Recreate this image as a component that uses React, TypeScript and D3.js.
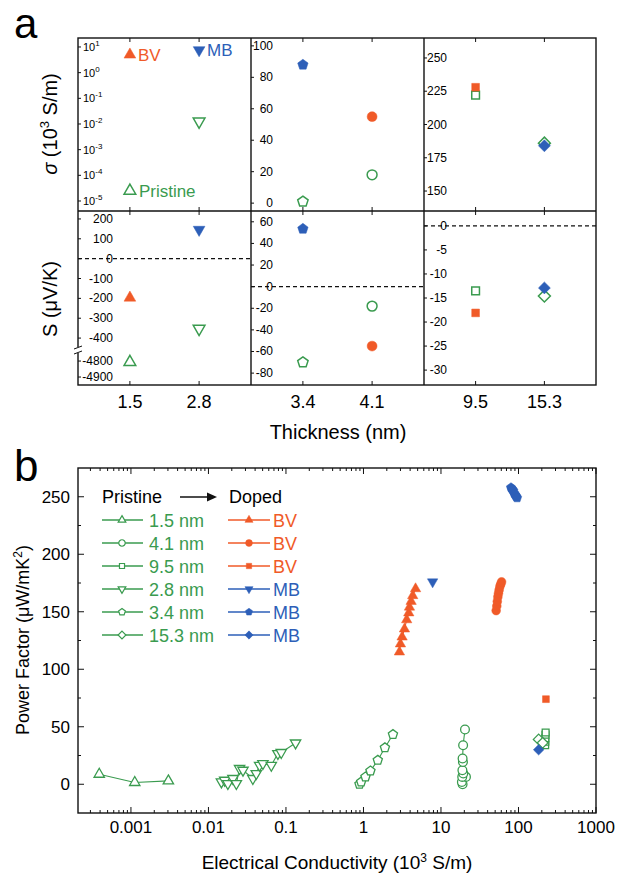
import React from "react";
import * as d3 from "d3";

// colours
const RED = "#f05a28";
const BLUE = "#2d5fb8";
const GREEN = "#3a9b4f";

// ---- panel a data (per thickness) ----
const thickness = ["1.5", "2.8", "3.4", "4.1", "9.5", "15.3"];
const columns = [["1.5", "2.8"], ["3.4", "4.1"], ["9.5", "15.3"]];
const shapes = ["up", "down", "pent", "circle", "square", "diam"];
const dopant = ["BV", "MB", "MB", "BV", "BV", "MB"];
const sigmaPristine = [2.5e-5, 0.0125, 1, 18, 222, 186];
const sigmaDoped = [5, 7.6, 88, 55, 228, 184];
const seebeckPristine = [-4806, -353, -70, -18, -13.5, -14.6];
const seebeckDoped = [-197, 146, 53.5, -55, -18.1, -12.9];

const sigmaTicks = [
  [10, "1"], [1, "0"], [0.1, "-1"], [0.01, "-2"], [0.001, "-3"], [1e-4, "-4"], [1e-5, "-5"],
];
const sigmaTicksMid = [0, 20, 40, 60, 80, 100];
const sigmaTicksRight = [150, 175, 200, 225, 250];
const seebeckTicksLeft = [200, 100, 0, -100, -200, -300, -400];
const seebeckTicksLeftLow = [-4800, -4900];
const seebeckTicksMid = [60, 40, 20, 0, -20, -40, -60, -80];
const seebeckTicksRight = [0, -5, -10, -15, -20, -25, -30];

// ---- panel b data: [conductivity (10^3 S/m), power factor] ----
const pf1_5 = [[0.00039, 8.7], [0.00112, 1.5], [0.00304, 2.9]];
const pf2_8 = [
  [0.0147, 2.0], [0.0162, 3.5], [0.0178, 0.6], [0.0207, 5.0], [0.0229, 0.6],
  [0.0252, 13.7], [0.0279, 12.2], [0.0374, 5.0], [0.0414, 9.3], [0.0457, 16.5],
  [0.0504, 18.0], [0.0647, 16.5], [0.0787, 26.7], [0.0869, 27.6], [0.133, 35.9],
];
const pf3_4 = [[0.888, 0], [0.934, 2.0], [1.061, 6.4], [1.23, 11.6], [1.53, 20.9], [1.89, 31.8], [2.4, 43.3]];
const pf4_1 = [[19.0, 0], [18.6, 2.0], [21.0, 6.4], [18.8, 6.4], [19.4, 9.3], [18.9, 12.2], [19.2, 19.4], [19.0, 22.4], [19.3, 33.9], [20.4, 47.6]];
const pf9_5 = [[221, 34], [222, 37], [222, 40], [223, 43], [224, 45]];
const pf15_3 = [[182, 39], [205, 36]];
const bv1_5 = [[2.91, 115], [3.0, 122], [3.15, 128], [3.38, 135], [3.61, 143], [3.84, 149], [3.92, 154], [4.12, 159], [4.32, 164], [4.7, 170]];
const bv4_1 = [[51.5, 151], [52.5, 155], [53.3, 159], [54.2, 163], [55.2, 166], [56.3, 169], [57.6, 172], [59, 174], [60.5, 176]];
const bv9_5 = [[226, 74]];
const mb2_8 = [[7.8, 176]];
const mb3_4 = [[80, 258], [82, 257], [84, 256], [86, 255], [88, 253], [90, 252], [92, 251], [94, 250], [96, 249]];
const mb15_3 = [[182, 30]];

const pfTicks = [0, 50, 100, 150, 200, 250];
const condTicks = [0.001, 0.01, 0.1, 1, 10, 100, 1000];
const condLabels = ["0.001", "0.01", "0.1", "1", "10", "100", "1000"];

const legendPristine = ["1.5 nm", "4.1 nm", "9.5 nm", "2.8 nm", "3.4 nm", "15.3 nm"];
const legendShapes = ["up", "circle", "square", "down", "pent", "diam"];
const legendDoped = ["BV", "BV", "BV", "MB", "MB", "MB"];

const sizeFactor: Record<string, number> = { up: 1.3, down: 1.3, circle: 0.95, square: 1.05, diam: 1.15, pent: 1.05 };

function markerPath(shape: string, base: number) {
  const r = base * sizeFactor[shape];
  const poly = (n: number, rot: number) =>
    "M" + d3.range(n).map((i) => {
      const a = rot + (i * 2 * Math.PI) / n;
      return [r * Math.cos(a), r * Math.sin(a)].join(",");
    }).join("L") + "Z";
  switch (shape) {
    case "up": return poly(3, -Math.PI / 2);
    case "down": return poly(3, Math.PI / 2);
    case "pent": return poly(5, -Math.PI / 2);
    case "diam": return poly(4, -Math.PI / 2);
    case "square": return poly(4, Math.PI / 4);
    default: {
      const p = d3.path();
      p.arc(0, 0, r, 0, 2 * Math.PI);
      p.closePath();
      return p.toString();
    }
  }
}

function Marker({ x, y, shape, color, open, base, sw = 1.5 }: any) {
  return (
    <path
      d={markerPath(shape, base)}
      transform={`translate(${x},${y})`}
      fill={open ? "#fff" : color}
      stroke={color}
      strokeWidth={open ? sw : 0.5}
    />
  );
}

export default function App() {
  // ---------- panel a geometry ----------
  const colX = [78, 251, 424, 596];
  const aT = 38, aM = 211, aB = 385;
  const xs = columns.map((c, i) =>
    d3.scalePoint<string>().domain(c).range([colX[i], colX[i + 1]]).padding(0.75)
  );
  const colOf = (t: string) => columns.findIndex((c) => c.includes(t));

  const topY: any[] = [
    d3.scaleLog().domain([Math.pow(10, -5.39), Math.pow(10, 1.35)]).range([aM, aT]),
    d3.scaleLinear().domain([-5, 105]).range([aM, aT]),
    d3.scaleLinear().domain([135, 265]).range([aM, aT]),
  ];
  const blUpper = d3.scaleLinear().domain([-460, 240]).range([350, aM]);
  const blLower = d3.scaleLinear().domain([-4950, -4737]).range([aB, 351]);
  const yBL = (v: number) => (v > -1000 ? blUpper(v) : blLower(v));
  const botY: any[] = [
    yBL,
    d3.scaleLinear().domain([-91, 70]).range([aB, aM]),
    d3.scaleLinear().domain([-33.1, 3.1]).range([aB, aM]),
  ];

  // ---------- panel b geometry ----------
  const bL = 78, bR = 596, bT = 468, bB = 813;
  const xb = d3.scaleLog().domain([Math.pow(10, -3.683), 1000]).range([bL, bR]);
  const yb = d3.scaleLinear().domain([-25, 275]).range([bB, bT]);
  const lineB = d3.line<number[]>().x((d) => xb(d[0])).y((d) => yb(d[1]));

  const seriesB = [
    { data: pf1_5, shape: "up", color: GREEN, open: true },
    { data: pf2_8, shape: "down", color: GREEN, open: true },
    { data: pf3_4, shape: "pent", color: GREEN, open: true },
    { data: pf4_1, shape: "circle", color: GREEN, open: true },
    { data: pf9_5, shape: "square", color: GREEN, open: true },
    { data: pf15_3, shape: "diam", color: GREEN, open: true },
    { data: bv1_5, shape: "up", color: RED, open: false },
    { data: bv4_1, shape: "circle", color: RED, open: false },
    { data: bv9_5, shape: "square", color: RED, open: false },
    { data: mb2_8, shape: "down", color: BLUE, open: false },
    { data: mb3_4, shape: "pent", color: BLUE, open: false },
    { data: mb15_3, shape: "diam", color: BLUE, open: false },
  ];

  const minorX: number[] = [];
  for (let e = -4; e <= 2; e++) for (let m = 2; m <= 9; m++) {
    const v = m * Math.pow(10, e);
    if (xb(v) > bL + 1 && xb(v) < bR - 1) minorX.push(v);
  }
  const minorY = [25, 75, 125, 175, 225];

  const tickLabelRight = [113, 273, 447];

  return (
    <svg width={619} height={875} style={{ position: "absolute", left: 0, top: 0, background: "#fff" }}
      fontFamily="Liberation Sans, Arial, Helvetica, sans-serif">
      {/* ================= panel a ================= */}
      <text x={14} y={38} fontSize={42}>a</text>

      {/* zero lines */}
      {[0, 1, 2].map((c) => (
        <line key={"z" + c} x1={colX[c]} x2={colX[c + 1]} y1={botY[c](0)} y2={botY[c](0)}
          stroke="#111" strokeWidth={1.1} strokeDasharray="4,3" />
      ))}

      {/* y ticks & labels : top row */}
      {sigmaTicks.map(([v, e]: any) => (
        <g key={"st" + e}>
          <line x1={colX[0]} x2={colX[0] + 3} y1={topY[0](v)} y2={topY[0](v)} stroke="#111" />
          <text x={83} y={topY[0](v) + 4} fontSize={11}>10<tspan dy={-5} fontSize={8}>{e}</tspan></text>
        </g>
      ))}
      {[sigmaTicksMid, sigmaTicksRight].map((ticks, k) =>
        ticks.map((v) => (
          <g key={"smt" + k + v}>
            <line x1={colX[k + 1]} x2={colX[k + 1] + 3} y1={topY[k + 1](v)} y2={topY[k + 1](v)} stroke="#111" />
            <text x={tickLabelRight[k + 1]} y={topY[k + 1](v) + 4} fontSize={12} textAnchor="end">{v}</text>
          </g>
        ))
      )}
      {/* y ticks & labels : bottom row */}
      {[seebeckTicksLeft.concat(seebeckTicksLeftLow), seebeckTicksMid, seebeckTicksRight].map((ticks, k) =>
        ticks.map((v) => (
          <g key={"sb" + k + v}>
            <line x1={colX[k]} x2={colX[k] + 3} y1={botY[k](v)} y2={botY[k](v)} stroke="#111" />
            <text x={tickLabelRight[k]} y={botY[k](v) + 4} fontSize={12} textAnchor="end">{v}</text>
          </g>
        ))
      )}

      {/* x ticks */}
      {thickness.map((t) => {
        const c = colOf(t);
        const x = xs[c](t)!;
        return (
          <g key={"xt" + t} stroke="#111">
            <line x1={x} x2={x} y1={aT} y2={aT + 4} />
            <line x1={x} x2={x} y1={aM} y2={aM - 4} />
            <line x1={x} x2={x} y1={aM} y2={aM + 4} />
            <line x1={x} x2={x} y1={aB} y2={aB - 4} />
          </g>
        );
      })}
      {thickness.map((t) => (
        <text key={"xl" + t} x={xs[colOf(t)](t)} y={408} fontSize={18} textAnchor="middle">{t}</text>
      ))}

      {/* frame */}
      <rect x={colX[0]} y={aT} width={colX[3] - colX[0]} height={aB - aT} fill="none" stroke="#111" strokeWidth={1.4} />
      <line x1={colX[1]} x2={colX[1]} y1={aT} y2={aB} stroke="#111" strokeWidth={1.4} />
      <line x1={colX[2]} x2={colX[2]} y1={aT} y2={aB} stroke="#111" strokeWidth={1.4} />
      <line x1={colX[0]} x2={colX[3]} y1={aM} y2={aM} stroke="#111" strokeWidth={1.4} />
      {/* axis break */}
      <rect x={75} y={347} width={6} height={6} fill="#fff" />
      <line x1={74} x2={82} y1={349} y2={346} stroke="#111" strokeWidth={1} />
      <line x1={74} x2={82} y1={354} y2={351} stroke="#111" strokeWidth={1} />

      {/* markers */}
      {thickness.map((t, i) => {
        const c = colOf(t);
        const x = xs[c](t)!;
        const col = dopant[i] === "BV" ? RED : BLUE;
        return (
          <g key={"m" + t}>
            <Marker x={x} y={topY[c](sigmaPristine[i])} shape={shapes[i]} color={GREEN} open base={5.2} />
            <Marker x={x} y={topY[c](sigmaDoped[i])} shape={shapes[i]} color={col} base={5.2} />
            <Marker x={x} y={botY[c](seebeckPristine[i])} shape={shapes[i]} color={GREEN} open base={5.2} />
            <Marker x={x} y={botY[c](seebeckDoped[i])} shape={shapes[i]} color={col} base={5.2} />
          </g>
        );
      })}
      {/* marker labels in the first column */}
      <text x={xs[0]("1.5")! + 8} y={topY[0](sigmaDoped[0]) + 6} fontSize={17} fill={RED}>BV</text>
      <text x={xs[0]("2.8")! + 8} y={topY[0](sigmaDoped[1]) + 6} fontSize={17} fill={BLUE}>MB</text>
      <text x={xs[0]("1.5")! + 9} y={topY[0](sigmaPristine[0]) + 6} fontSize={17} fill={GREEN}>Pristine</text>

      {/* axis titles */}
      <text transform="translate(57,124) rotate(-90)" fontSize={20} textAnchor="middle">
        <tspan fontStyle="italic">σ</tspan> (10<tspan dy={-8} fontSize={13}>3</tspan><tspan dy={8}> S/m)</tspan>
      </text>
      <text transform="translate(57,299) rotate(-90)" fontSize={20} textAnchor="middle">S (μV/K)</text>
      <text x={338} y={439} fontSize={20} textAnchor="middle">Thickness (nm)</text>

      {/* ================= panel b ================= */}
      <text x={14} y={481} fontSize={44}>b</text>

      {/* ticks */}
      {pfTicks.map((v) => (
        <g key={"py" + v} stroke="#111">
          <line x1={bL} x2={bL + 6} y1={yb(v)} y2={yb(v)} />
          <line x1={bR} x2={bR - 6} y1={yb(v)} y2={yb(v)} />
        </g>
      ))}
      {minorY.map((v) => (
        <g key={"pym" + v} stroke="#111">
          <line x1={bL} x2={bL + 3} y1={yb(v)} y2={yb(v)} />
          <line x1={bR} x2={bR - 3} y1={yb(v)} y2={yb(v)} />
        </g>
      ))}
      {condTicks.map((v) => (
        <g key={"cx" + v} stroke="#111">
          <line x1={xb(v)} x2={xb(v)} y1={bB} y2={bB - 6} />
          <line x1={xb(v)} x2={xb(v)} y1={bT} y2={bT + 6} />
        </g>
      ))}
      {minorX.map((v) => (
        <g key={"cxm" + v} stroke="#111">
          <line x1={xb(v)} x2={xb(v)} y1={bB} y2={bB - 3} />
          <line x1={xb(v)} x2={xb(v)} y1={bT} y2={bT + 3} />
        </g>
      ))}
      {pfTicks.map((v) => (
        <text key={"pyl" + v} x={70} y={yb(v) + 6} fontSize={17} textAnchor="end">{v}</text>
      ))}
      {condTicks.map((v, i) => (
        <text key={"cxl" + v} x={xb(v)} y={833} fontSize={17} textAnchor="middle">{condLabels[i]}</text>
      ))}

      {/* series */}
      {seriesB.map((s, k) => (
        <g key={"s" + k}>
          <path d={lineB(s.data)!} fill="none" stroke={s.color} strokeWidth={1.1} />
          {s.data.map((d, j) => (
            <Marker key={j} x={xb(d[0])} y={yb(d[1])} shape={s.shape} color={s.color} open={s.open} base={4.6} sw={1.3} />
          ))}
        </g>
      ))}

      <rect x={bL} y={bT} width={bR - bL} height={bB - bT} fill="none" stroke="#111" strokeWidth={1.4} />

      {/* legend */}
      <text x={102} y={503} fontSize={18}>Pristine</text>
      <line x1={180} x2={208} y1={497} y2={497} stroke="#111" strokeWidth={1.5} />
      <path d="M207,492.5L217,497L207,501.5Z" fill="#111" />
      <text x={229} y={503} fontSize={18}>Doped</text>
      {legendPristine.map((lab, i) => {
        const y = 520 + i * 23;
        const dc = legendDoped[i] === "BV" ? RED : BLUE;
        return (
          <g key={"lg" + i}>
            <line x1={102} x2={143} y1={y} y2={y} stroke={GREEN} strokeWidth={1.3} />
            <Marker x={122} y={y} shape={legendShapes[i]} color={GREEN} open base={3.4} sw={1.2} />
            <text x={149} y={y + 6.5} fontSize={18} fill={GREEN}>{lab}</text>
            <line x1={228} x2={270} y1={y} y2={y} stroke={dc} strokeWidth={1.3} />
            <Marker x={249} y={y} shape={legendShapes[i]} color={dc} base={3.6} />
            <text x={273} y={y + 6.5} fontSize={18} fill={dc}>{legendDoped[i]}</text>
          </g>
        );
      })}

      {/* axis titles */}
      <text transform="translate(29,640) rotate(-90)" fontSize={18} textAnchor="middle">
        Power Factor (μW/mK<tspan dy={-7} fontSize={12}>2</tspan><tspan dy={7}>)</tspan>
      </text>
      <text x={337} y={869} fontSize={19} textAnchor="middle">
        Electrical Conductivity (10<tspan dy={-7} fontSize={12}>3</tspan><tspan dy={7}> S/m)</tspan>
      </text>
    </svg>
  );
}
